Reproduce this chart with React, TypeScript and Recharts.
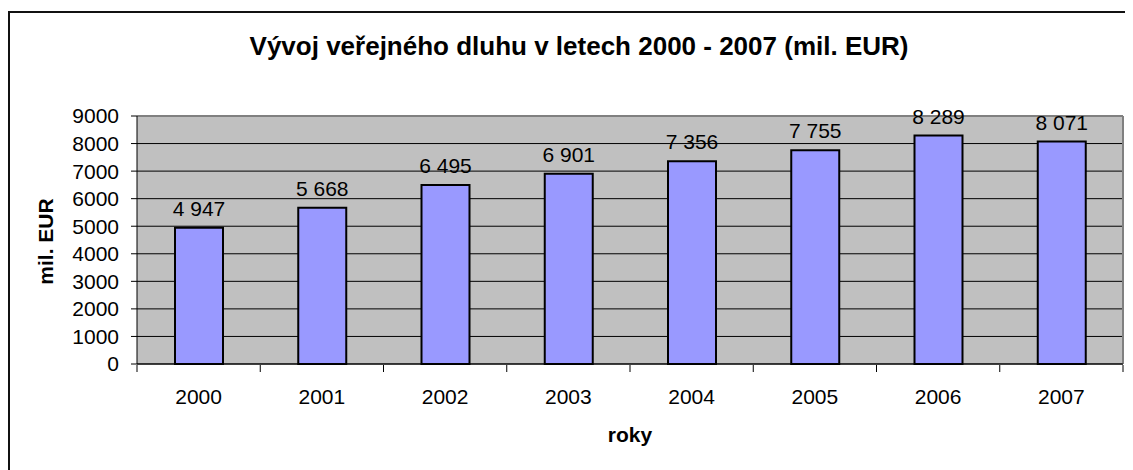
import React from 'react';
import {
  BarChart,
  Bar,
  XAxis,
  YAxis,
  CartesianGrid,
  LabelList,
  ReferenceLine,
  Label,
} from 'recharts';

const years = ['2000', '2001', '2002', '2003', '2004', '2005', '2006', '2007'];
const debtValues = [4947, 5668, 6495, 6901, 7356, 7755, 8289, 8071];
const yTicks = [0, 1000, 2000, 3000, 4000, 5000, 6000, 7000, 8000, 9000];
const boundaryTicks = [0, 1, 2, 3, 4, 5, 6, 7, 8];

const titleText = 'Vývoj veřejného dluhu v letech 2000 - 2007 (mil. EUR)';
const yAxisTitle = 'mil. EUR';
const xAxisTitle = 'roky';

const data = years.map((year, i) => ({ year, debt: debtValues[i], pos: i + 0.5 }));

const FONT = '"Liberation Sans", Arial, sans-serif';

const fmt = (v: any) => String(v).replace(/\B(?=(\d{3})+(?!\d))/g, ' ');

const YTitle = (props: any) => {
  const vb = props.viewBox || {};
  const x = (vb.x || 0) + 43;
  const y = (vb.y || 0) + (vb.height || 0) / 2 + 1.5;
  return (
    <text
      x={x}
      y={y}
      transform={`rotate(-90 ${x} ${y})`}
      textAnchor="middle"
      fontFamily={FONT}
      fontSize={21}
      fontWeight="bold"
      fill="#000"
    >
      {yAxisTitle}
    </text>
  );
};

const XTitle = (props: any) => {
  const vb = props.viewBox || {};
  const x = (vb.x || 0) + (vb.width || 0) / 2;
  const y = (vb.y || 0) + 78;
  return (
    <text x={x} y={y} textAnchor="middle" fontFamily={FONT} fontSize={21} fontWeight="bold" fill="#000">
      {xAxisTitle}
    </text>
  );
};

export default function App() {
  return (
    <div
      style={{
        position: 'relative',
        marginTop: 3,
        width: 1123,
        height: 457,
        borderLeft: '2px solid #111',
        borderTop: '2px solid #111',
        fontFamily: FONT,
      }}
    >
      <div
        style={{
          position: 'absolute',
          left: 0,
          top: 18,
          width: 1138,
          height: 30,
          lineHeight: '30px',
          textAlign: 'center',
          fontSize: 26,
          fontWeight: 'bold',
          color: '#000',
          whiteSpace: 'nowrap',
          zIndex: 2,
        }}
      >
        {titleText}
      </div>
      <BarChart
        width={1123}
        height={457}
        data={data}
        margin={{ top: 103, right: 10, bottom: 104, left: 0 }}
        style={{ fontFamily: FONT }}
      >
        <CartesianGrid
          xAxisId="cat"
          vertical={false}
          fill="#C0C0C0"
          fillOpacity={1}
          stroke="#000"
          strokeOpacity={1}
        />
        <XAxis
          xAxisId="cat"
          dataKey="year"
          height={1}
          interval={0}
          axisLine={{ stroke: '#000' }}
          tickLine={{ stroke: 'transparent' }}
          tickSize={7}
          tickMargin={18}
          tick={{ fill: '#000', fontSize: 21, fontFamily: FONT }}
        >
          <Label content={<XTitle />} />
        </XAxis>
        <XAxis
          xAxisId="grid"
          type="number"
          dataKey="pos"
          domain={[0, 8]}
          ticks={boundaryTicks}
          allowDataOverflow
          height={1}
          axisLine={false}
          tickLine={{ stroke: '#000' }}
          tickSize={7}
          tickFormatter={() => ''}
          interval={0}
        />
        <YAxis
          domain={[0, 9000]}
          ticks={yTicks}
          width={127}
          interval={0}
          axisLine={{ stroke: '#000' }}
          tickLine={{ stroke: '#000' }}
          tickSize={6}
          tickMargin={12}
          tick={{ fill: '#000', fontSize: 21, fontFamily: FONT }}
        >
          <Label content={<YTitle />} />
        </YAxis>
        <ReferenceLine y={9000} xAxisId="cat" stroke="#808080" strokeWidth={2} />
        <ReferenceLine x={8} xAxisId="grid" stroke="#808080" strokeWidth={2} />
        <Bar
          xAxisId="cat"
          dataKey="debt"
          fill="#9999FF"
          stroke="#000"
          strokeWidth={2}
          barSize={48}
          isAnimationActive={false}
        >
          <LabelList
            dataKey="debt"
            position="top"
            offset={12}
            formatter={fmt}
            fill="#000"
            fontSize={21}
            fontFamily={FONT}
          />
        </Bar>
      </BarChart>
    </div>
  );
}
